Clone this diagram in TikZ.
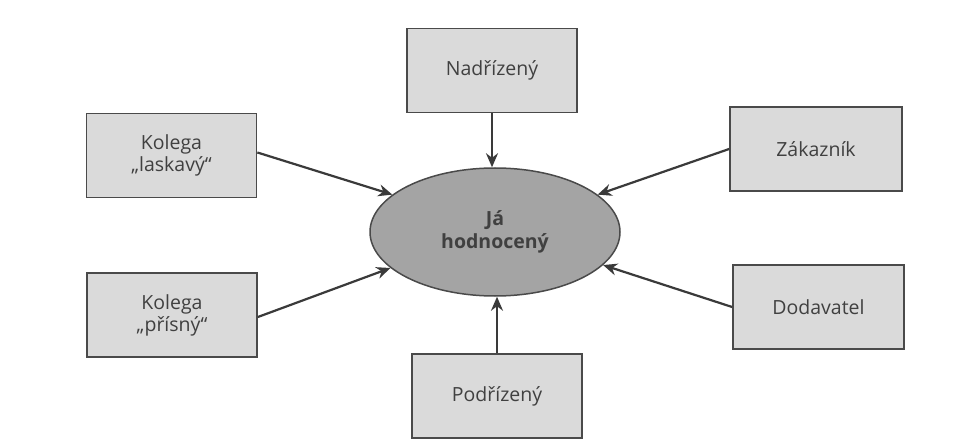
\documentclass[tikz,border=0pt]{standalone}
\usepackage{fontspec}
\setmainfont{Open Sans}
\usetikzlibrary{arrows.meta,shapes.geometric}
\definecolor{boxfill}{HTML}{DADADA}
\definecolor{boxline}{HTML}{4A4A4A}
\definecolor{ellfill}{HTML}{A4A4A4}
\definecolor{txt}{HTML}{404040}
\definecolor{arrcol}{HTML}{3A3A3A}
\tikzset{
  rolebox/.style={draw=boxline, fill=boxfill, line width=1.8pt, rectangle,
    minimum width=170pt, minimum height=84pt, align=center, text=txt,
    font=\fontsize{19.5}{22}\selectfont, inner sep=0pt},
  selfnode/.style={draw=boxline, fill=ellfill, line width=1.5pt, ellipse,
    minimum width=250pt, minimum height=128pt, align=center, text=txt,
    font=\fontsize{19.5}{23}\selectfont\bfseries, inner sep=0pt},
  arr/.style={draw=arrcol, line width=2.2pt, -{Stealth[length=14pt,width=12pt]}}
}
\begin{document}
\begin{tikzpicture}[x=1pt,y=-1pt]
\useasboundingbox[fill=white] (0,0) rectangle (968,446);
\node[selfnode] (me) at (495,232) {Já\\hodnocený};
\node[rolebox] (lask) at (171.5,155.5) {Kolega\\„laskavý“};
\node[rolebox] (pris) at (172,315) {Kolega\\„přísný“};
\node[rolebox] (nad) at (492,70.5) {Nadřízený};
\node[rolebox] (pod) at (497,396) {Podřízený};
\node[rolebox, minimum width=172pt] (zak) at (816,149) {Zákazník};
\node[rolebox, minimum width=171pt] (dod) at (818.5,307) {Dodavatel};
\draw[arr] ([yshift=3pt]lask.east) -- (me.160);
\draw[arr] ([yshift=-2pt]pris.east) -- (me.199);
\draw[arr] (zak.west) -- (me.20);
\draw[arr] (dod.west) -- (me.-17);
\draw[arr] (nad.south) -- (nad.south |- me.north);
\draw[arr] (pod.north) -- (pod.north |- me.south);
\end{tikzpicture}
\end{document}
